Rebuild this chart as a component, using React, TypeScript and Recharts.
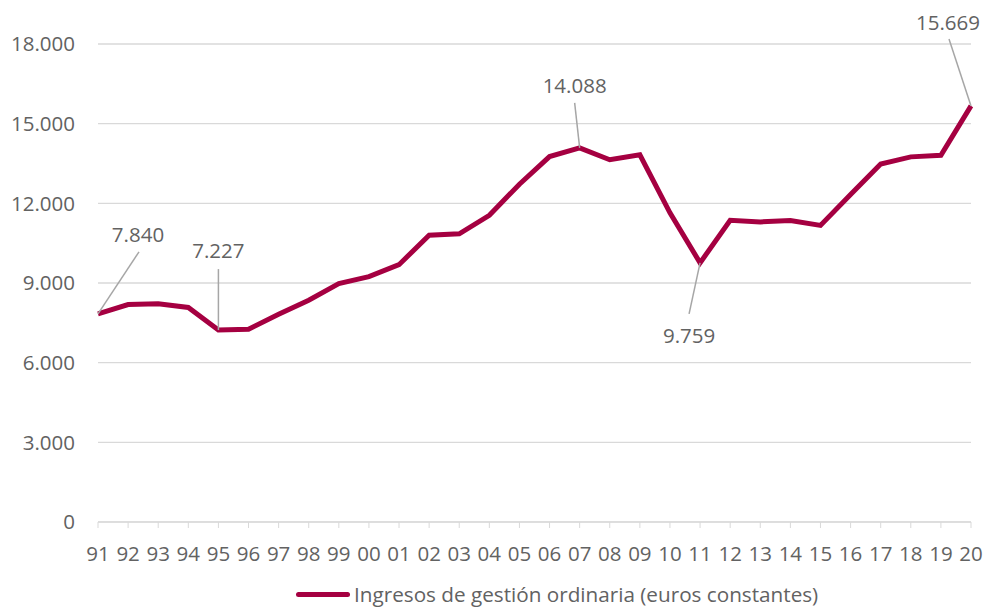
import { LineChart, Line, XAxis, YAxis, CartesianGrid, Legend } from "recharts";

const years = [
  "91", "92", "93", "94", "95", "96", "97", "98", "99", "00",
  "01", "02", "03", "04", "05", "06", "07", "08", "09", "10",
  "11", "12", "13", "14", "15", "16", "17", "18", "19", "20",
];

const ingresos = [
  7840, 8190, 8220, 8080, 7227, 7260, 7820, 8350, 8975, 9240,
  9690, 10800, 10850, 11550, 12720, 13760, 14088, 13640, 13830, 11640,
  9759, 11360, 11300, 11350, 11170, 12330, 13480, 13750, 13810, 15669,
];

const yTicks = [0, 3000, 6000, 9000, 12000, 15000, 18000];

const data = years.map((year, i) => ({ year, value: ingresos[i] }));

const seriesName = "Ingresos de gestión ordinaria (euros constantes)";
const lineColor = "#A50041";
const textColor = "#626262";
const gridColor = "#d9d9d9";
const font = "'Open Sans', sans-serif";

const fmt = (v: number) => String(Math.round(v)).replace(/\B(?=(\d{3})+(?!\d))/g, ".");

// where each annotated point puts its text and leader line (relative to the point)
const callouts: Record<string, { tx: number; ty: number; lx: number; ly: number }> = {
  "91": { tx: 40, ty: -80, lx: 41, ly: -62 },
  "95": { tx: 0, ty: -80, lx: 0, ly: -61 },
  "07": { tx: -5, ty: -63, lx: -5, ly: -45 },
  "11": { tx: -11, ty: 72, lx: -11, ly: 51 },
  "20": { tx: -23, ty: -84, lx: -22, ly: -67 },
};

function renderCallout(props: any) {
  const { x, y, index, value } = props;
  const c = callouts[years[index]];
  if (!c) return <g key={`l${index}`} />;
  return (
    <g key={`l${index}`}>
      <line x1={x} y1={y} x2={x + c.lx} y2={y + c.ly} stroke="#a6a6a6" strokeWidth={1.5} />
      <text
        x={x + c.tx}
        y={y + c.ty}
        textAnchor="middle"
        dominantBaseline="central"
        fill={textColor}
        fontSize={20.5}
        fontFamily={font}
      >
        {fmt(value)}
      </text>
    </g>
  );
}

function renderLegend() {
  return (
    <div
      style={{
        display: "flex",
        alignItems: "center",
        paddingLeft: 296,
        paddingTop: 10,
        lineHeight: "24px",
        fontFamily: font,
        fontSize: 20.7,
        color: textColor,
      }}
    >
      <span style={{ display: "inline-block", width: 54, height: 5, borderRadius: 3, background: lineColor, marginRight: 4 }} />
      <span>{seriesName}</span>
    </div>
  );
}

export default function App() {
  return (
    <div style={{ position: "absolute", left: 0, top: 0, background: "#fff" }}>
      <LineChart width={987} height={607} data={data} margin={{ top: 44, right: 16, bottom: 0, left: 8 }}>
        <CartesianGrid vertical={false} stroke={gridColor} strokeWidth={1.3} />
        <XAxis
          dataKey="year"
          interval={0}
          height={50}
          stroke={gridColor}
          tickSize={6}
          tickMargin={18}
          tick={{ fill: textColor, fontSize: 20.5, fontFamily: font }}
        />
        <YAxis
          width={90}
          domain={[0, 18000]}
          ticks={yTicks}
          axisLine={false}
          tickLine={false}
          tickSize={0}
          tickMargin={23}
          tickFormatter={fmt}
          tick={{ fill: textColor, fontSize: 20.5, fontFamily: font }}
        />
        <Legend verticalAlign="bottom" height={35} wrapperStyle={{ left: 0, width: 987 }} content={renderLegend} />
        <Line
          name={seriesName}
          dataKey="value"
          type="linear"
          stroke={lineColor}
          strokeWidth={5}
          dot={false}
          activeDot={false}
          label={renderCallout}
          isAnimationActive={false}
        />
      </LineChart>
    </div>
  );
}
